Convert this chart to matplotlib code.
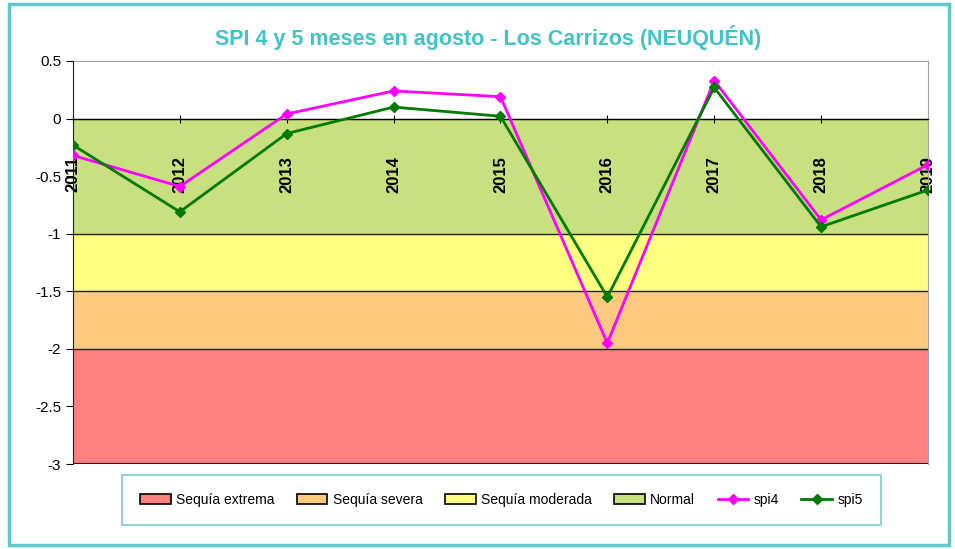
import matplotlib.pyplot as plt
from matplotlib.patches import Patch, Rectangle
from matplotlib.lines import Line2D

years = ["2011", "2012", "2013", "2014", "2015", "2016", "2017", "2018", "2019"]
spi4 = [-0.32, -0.59, 0.04, 0.24, 0.19, -1.95, 0.33, -0.88, -0.40]
spi5 = [-0.23, -0.81, -0.13, 0.10, 0.02, -1.55, 0.27, -0.94, -0.62]

band_names = ["Sequía extrema", "Sequía severa", "Sequía moderada", "Normal"]
band_lower = [-3, -2, -1.5, -1]
band_upper = [-2, -1.5, -1, 0]
band_colors = ["#FF8080", "#FFCA80", "#FFFF80", "#C8E080"]

plt.rcParams["font.family"] = ["Liberation Sans", "DejaVu Sans"]

fig = plt.figure(figsize=(9.55, 5.49), dpi=100)
ax = fig.add_axes([0.0764, 0.1548, 0.8953, 0.7341])

x = list(range(len(years)))

# drought bands (stacked areas in the original)
for lo, hi, c in zip(band_lower, band_upper, band_colors):
    ax.fill_between([x[0], x[-1]], [lo, lo], [hi, hi], color=c, edgecolor="none", zorder=1)
    ax.plot([x[0], x[-1]], [hi, hi], color="#202020", lw=1.0, zorder=2)
ax.plot([x[0], x[-1]], [band_lower[0]] * 2, color="#202020", lw=1.5, zorder=2)

ax.plot(x, spi4, color="#FF00FF", lw=2, marker="D", ms=5, zorder=4)
ax.plot(x, spi5, color="#007A00", lw=2, marker="D", ms=5, zorder=5)

ax.set_xlim(x[0], x[-1])
ax.set_ylim(-3, 0.5)
ax.set_yticks([0.5, 0, -0.5, -1, -1.5, -2, -2.5, -3])
ax.set_yticklabels(["0.5", "0", "-0.5", "-1", "-1.5", "-2", "-2.5", "-3"], fontsize=11)

ax.spines["bottom"].set_position(("data", 0))
ax.spines["bottom"].set_zorder(3)
ax.spines["left"].set_color("#202020")
ax.spines["left"].set_zorder(3)
ax.spines["top"].set_color("#A0A0A0")
ax.spines["right"].set_color("#A0A0A0")
ax.set_xticks(x)
ax.set_xticklabels(years, rotation=90, fontsize=12, fontweight="bold")
ax.tick_params(axis="x", direction="inout", length=6, pad=24)
ax.tick_params(axis="y", direction="out", length=5)

fig.text(0.511, 0.932, "SPI 4 y 5 meses en agosto - Los Carrizos (NEUQUÉN)",
         ha="center", va="center", fontsize=15.5, fontweight="bold", color="#40C4C8")

handles = [Patch(facecolor=c, edgecolor="black", lw=1.2) for c in band_colors]
handles.append(Line2D([], [], color="#FF00FF", lw=2, marker="D", ms=5))
handles.append(Line2D([], [], color="#007A00", lw=2, marker="D", ms=5))
labels = band_names + ["spi4", "spi5"]
leg = fig.legend(handles, labels, loc="center", bbox_to_anchor=(0.525, 0.090), ncol=6,
                 fontsize=10, frameon=True, fancybox=False, handlelength=2.2,
                 handletextpad=0.4, columnspacing=1.6, borderpad=1.3)
leg.get_frame().set_edgecolor("#70CCCC")
leg.get_frame().set_linewidth(1.5)

# outer chart border
fig.patches.append(Rectangle((0.009, 0.007), 0.985, 0.985, transform=fig.transFigure,
                             fill=False, edgecolor="#60C8C8", lw=2.5))

fig.savefig("out.png", dpi=100)
